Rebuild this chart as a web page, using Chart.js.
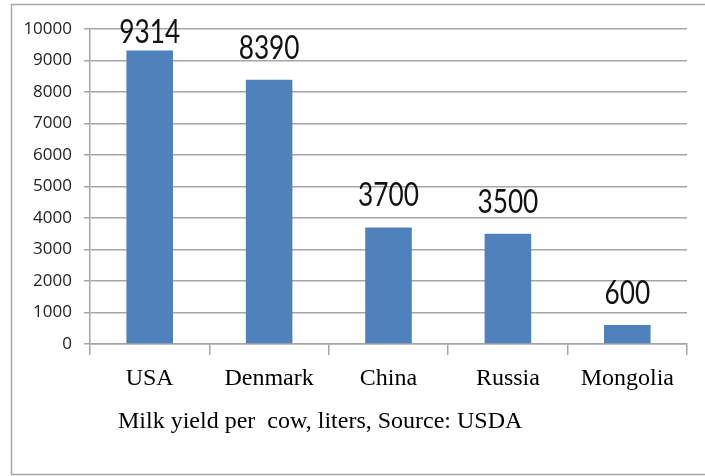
<!DOCTYPE html>
<html>
<head>
<meta charset="utf-8">
<script src="https://cdn.jsdelivr.net/npm/chart.js@4/dist/chart.umd.min.js"></script>
<style>
  html, body { margin:0; padding:0; background:#fff; }
  #wrap { width:705px; height:476px; }
</style>
</head>
<body>
<div id="wrap"><canvas id="chartLeche"></canvas></div>
<script>
// ---------------- Datos ----------------
const paises = ['USA', 'Denmark', 'China', 'Russia', 'Mongolia'];
const litrosPorVaca = [9314, 8390, 3700, 3500, 600];
const ticksY = [0, 1000, 2000, 3000, 4000, 5000, 6000, 7000, 8000, 9000, 10000];
const leyenda = 'Milk yield per  cow, liters, Source: USDA';

const azul = '#4f81bd';
const gris = '#a6a6a6';

// marco gris y texto de fuente
const marco = {
  id: 'marco',
  beforeDraw(chart) {
    const ctx = chart.ctx;
    ctx.save();
    ctx.fillStyle = '#fff';
    ctx.fillRect(0, 0, chart.width, chart.height);
    ctx.strokeStyle = gris;
    ctx.lineWidth = 1.5;
    ctx.beginPath();
    ctx.moveTo(chart.width, 4.5);
    ctx.lineTo(11.5, 4.5);
    ctx.lineTo(11.5, 474.5);
    ctx.lineTo(chart.width, 474.5);
    ctx.stroke();
    ctx.restore();
  },
  afterDraw(chart) {
    const ctx = chart.ctx;
    ctx.save();
    ctx.font = '24px "Liberation Serif", serif';
    ctx.fillStyle = '#000';
    ctx.textBaseline = 'alphabetic';
    ctx.fillText(leyenda, 118, 428);
    ctx.restore();
  }
};

// valores encima de cada barra (estrechados un poco, como en el original)
const etiquetas = {
  id: 'etiquetas',
  afterDatasetsDraw(chart) {
    const ctx = chart.ctx;
    const meta = chart.getDatasetMeta(0);
    ctx.save();
    ctx.font = '32px Lato, sans-serif';
    ctx.fillStyle = '#111';
    ctx.textAlign = 'center';
    ctx.textBaseline = 'alphabetic';
    meta.data.forEach((bar, i) => {
      const yBase = Math.max(bar.y - 21, 43);
      ctx.save();
      ctx.translate(bar.x, yBase);
      ctx.scale(0.82, 1);
      ctx.fillText(String(litrosPorVaca[i]), 0, 0);
      ctx.restore();
    });
    ctx.restore();
  }
};

new Chart(document.getElementById('chartLeche').getContext('2d'), {
  type: 'bar',
  data: {
    labels: paises,
    datasets: [{ label: 'Milk yield', data: litrosPorVaca, backgroundColor: azul, barPercentage: 0.39, categoryPercentage: 1 }]
  },
  options: {
    responsive: true,
    maintainAspectRatio: false,
    animation: false,
    layout: { padding: { top: 29, right: 18, left: 0, bottom: 0 } },
    plugins: { legend: { display: false }, tooltip: { enabled: false } },
    scales: {
      x: {
        afterFit: s => { s.height = 132; },
        border: { color: gris, width: 1.5 },
        grid: { display: true, drawOnChartArea: false, drawTicks: true, tickLength: 11, color: gris, lineWidth: 1.5, offset: true },
        ticks: { color: '#000', padding: 9, font: { family: '"Liberation Serif", serif', size: 24 } }
      },
      y: {
        min: 0, max: 10000,
        afterFit: s => { s.width = 90; },
        afterBuildTicks: s => { s.ticks = ticksY.map(v => ({ value: v })); },
        border: { color: gris, width: 1.5 },
        grid: { color: gris, lineWidth: 1.5, tickLength: 6 },
        ticks: {
          color: '#222', padding: 12,
          font: { family: '"Open Sans", sans-serif', size: 17 },
          callback: v => String(v)
        }
      }
    }
  },
  plugins: [marco, etiquetas]
});
</script>
</body>
</html>
